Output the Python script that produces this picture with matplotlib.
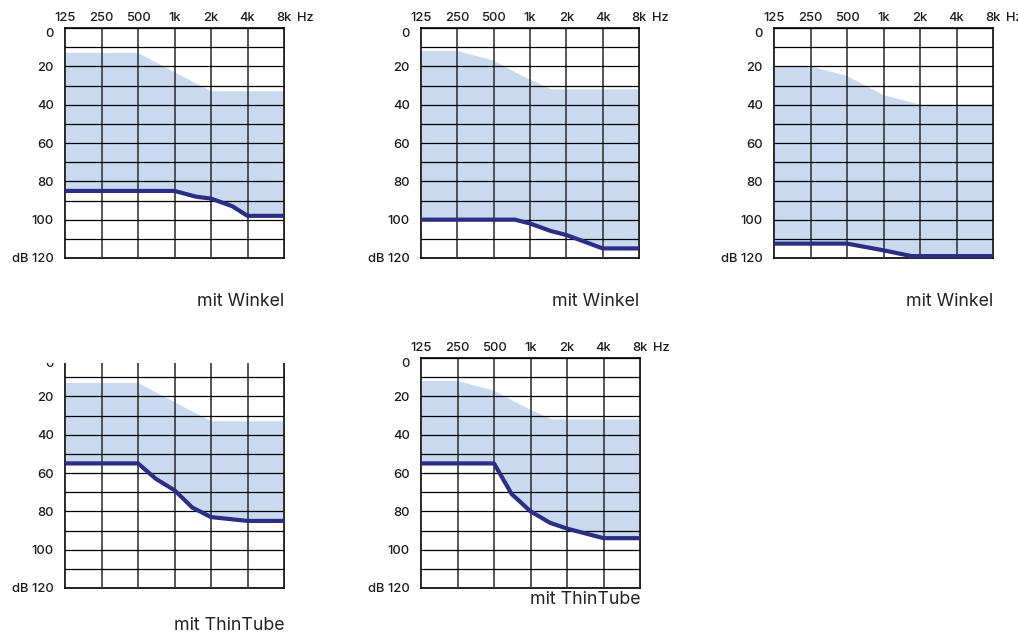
import numpy as np
import matplotlib.pyplot as plt
from matplotlib.patches import Rectangle

plt.rcParams['font.family'] = ['Inter', 'DejaVu Sans']
plt.rcParams['font.size'] = 9.3
plt.rcParams['font.weight'] = 'medium'

# axes labels
freq_ticks = [125, 250, 500, 1000, 2000, 4000, 8000]
freq_labels = ['125', '250', '500', '1k', '2k', '4k', '8k']
db_ticks = [0, 20, 40, 60, 80, 100, 120]
db_labels = ['0', '20', '40', '60', '80', '100', 'dB 120']

# fitting range (upper edge of the blue area) and gain curve per chart
f_top1 = [125, 500, 2000, 8000]
top1 = [13, 13, 33, 33]
f_line1 = [125, 1000, 1500, 2000, 3000, 4000, 8000]
line1 = [85, 85, 88, 89, 93, 98, 98]

f_top2 = [125, 250, 500, 700, 1000, 1500, 8000]
top2 = [12, 12, 17, 22, 27, 32, 32]
f_line2 = [125, 750, 1000, 1500, 2000, 4000, 8000]
line2 = [100, 100, 102, 106, 108, 115, 115]

f_top3 = [125, 250, 500, 1000, 2000, 8000]
top3 = [20, 20, 25, 35, 40, 40]
f_line3 = [125, 500, 1000, 1700, 8000]
line3 = [112.5, 112.5, 116, 119, 119]

f_top4 = [125, 500, 2000, 8000]
top4 = [13, 13, 33, 33]
f_line4 = [125, 500, 700, 1000, 1400, 2000, 4000, 8000]
line4 = [55, 55, 63, 69, 78, 83, 85, 85]

f_top5 = [125, 250, 500, 700, 1000, 1500, 8000]
top5 = [12, 12, 17, 22, 27, 32, 32]
f_line5 = [125, 500, 700, 1000, 1450, 2000, 4000, 8000]
line5 = [55, 55, 71, 80, 86, 89, 94, 94]

captions = ['mit Winkel', 'mit Winkel', 'mit Winkel', 'mit ThinTube', 'mit ThinTube']

W, H = 1018, 640
fig = plt.figure(figsize=(W / 100, H / 100), dpi=100)

def px_axes(left, top, right, bottom):
    return fig.add_axes([left / W, 1 - bottom / H, (right - left) / W, (bottom - top) / H])

boxes = [(65, 28, 284, 258), (421, 28, 639, 258), (774, 28, 993, 258),
         (65, 358, 284, 588), (421, 358, 640, 588)]
tops = [(f_top1, top1), (f_top2, top2), (f_top3, top3), (f_top4, top4), (f_top5, top5)]
lines = [(f_line1, line1), (f_line2, line2), (f_line3, line3), (f_line4, line4), (f_line5, line5)]
cap_y = [-0.187, -0.187, -0.187, -0.163, -0.05]

fill_col = '#c9d9f0'
line_col = '#2b2e83'

for i in range(5):
    ax = px_axes(*boxes[i])
    ft, t = tops[i]
    fl, l = lines[i]
    ax.fill(list(ft) + list(fl[::-1]), list(t) + list(l[::-1]), color=fill_col, lw=0, zorder=1)
    ax.plot(fl, l, color=line_col, lw=3, solid_capstyle='butt', zorder=3)

    ax.set_xscale('log', base=2)
    ax.set_xlim(125, 8000)
    ax.set_ylim(120, 0)
    ax.set_xticks(freq_ticks)
    ax.set_xticklabels(freq_labels)
    ax.minorticks_off()
    ax.set_yticks(db_ticks)
    ax.set_yticklabels(db_labels)
    ax.set_yticks(np.arange(10, 120, 20), minor=True)
    ax.xaxis.tick_top()
    ax.tick_params(axis='x', length=0, pad=3, colors='#1a1a1a')
    ax.tick_params(axis='y', which='both', length=0, pad=8, colors='#1a1a1a')
    ax.yaxis.get_ticklabels()[0].set_va('top')

    ax.grid(True, axis='y', which='both', color='black', lw=0.9, zorder=2)
    ax.grid(True, axis='x', which='major', color='#3a3a3a', lw=1.2, zorder=2)
    ax.set_axisbelow(False)
    for s in ax.spines.values():
        s.set_linewidth(1.2)

    ax.annotate('Hz', xy=(8000, 1), xycoords=('data', 'axes fraction'),
                xytext=(9.5, 3), textcoords='offset points', ha='left', va='bottom',
                color='#1a1a1a')
    ax.text(1.0, cap_y[i], captions[i], transform=ax.transAxes,
            ha='right', va='center', fontsize=12.8, fontweight='normal', color='#222222')

# bottom-left panel is cut off at its top edge
fig.patches.append(Rectangle((0, 1 - 363 / H), 330 / W, 33 / H, transform=fig.transFigure,
                             facecolor='white', edgecolor='none', zorder=10))

plt.savefig('out.png', dpi=100)
